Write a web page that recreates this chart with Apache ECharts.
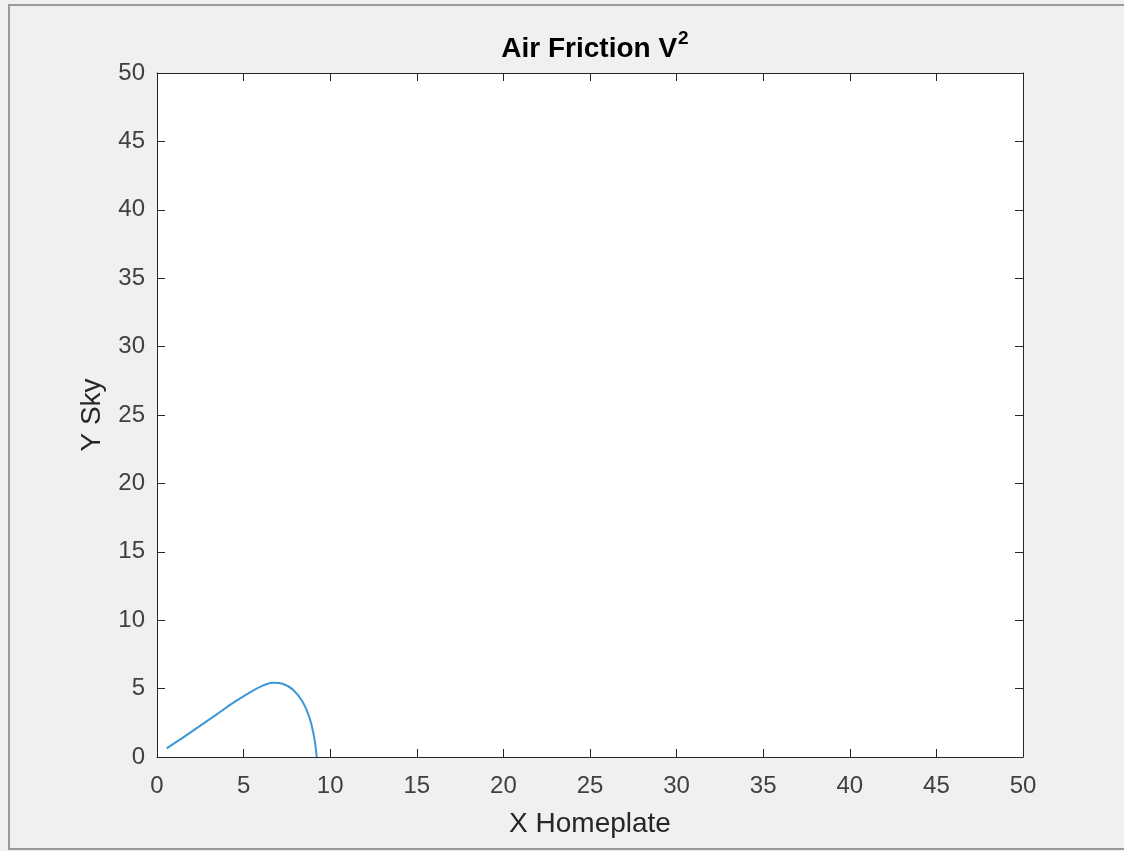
<!DOCTYPE html>
<html>
<head>
<meta charset="utf-8">
<title>Air Friction V^2</title>
<script src="https://cdn.jsdelivr.net/npm/echarts@6/dist/echarts.min.js"></script>
<style>
    html, body { margin: 0; padding: 0; background: #f0f0f0; }
    #chart { width: 1124px; height: 851px; }
</style>
</head>
<body>
<div id="chart"></div>
<script>
// 轨迹数据
const xHome = [0.56, 1.52, 2.48, 3.45, 4.41, 5.37, 6.14, 6.72, 7.29, 7.87, 8.40, 8.80, 9.05, 9.15, 9.22];
const ySky  = [0.63, 1.44, 2.27, 3.12, 3.97, 4.73, 5.24, 5.43, 5.34, 4.90, 4.05, 2.90, 1.60, 0.80, 0.00];
const tickStep = 5;
const axisMax = 50;

document.addEventListener('DOMContentLoaded', function() {
    const chart = echarts.init(document.getElementById('chart'));
    const font = '"Liberation Sans", Arial, Helvetica, sans-serif';
    const ink = '#262626';

    const points = xHome.map(function(x, i) { return [x, ySky[i]]; });

    // 坐标轴通用样式 (MATLAB 风格: 刻度朝内, 四周闭合)
    function baseAxis(pos, showLabel, margin) {
        return {
            type: 'value',
            position: pos,
            min: 0,
            max: axisMax,
            interval: tickStep,
            splitLine: { show: false },
            axisLine: { show: true, onZero: false, lineStyle: { color: ink, width: 1 } },
            axisTick: { show: true, inside: true, length: 8, lineStyle: { color: ink } },
            axisLabel: { show: showLabel, color: '#404040', fontSize: 24, fontFamily: font, margin: margin || 12 }
        };
    }

    const xBottom = baseAxis('bottom', true, 17);
    xBottom.name = 'X Homeplate';
    xBottom.nameLocation = 'middle';
    xBottom.nameGap = 53;
    xBottom.nameTextStyle = { color: '#262626', fontSize: 28, fontFamily: font };

    const yLeft = baseAxis('left', true, 12);
    yLeft.name = 'Y Sky';
    yLeft.nameLocation = 'middle';
    yLeft.nameGap = 51;
    yLeft.nameTextStyle = { color: '#262626', fontSize: 28, fontFamily: font };

    const option = {
        backgroundColor: '#f0f0f0',
        animation: false,
        title: {
            text: '{t|Air Friction V}{s|2}',
            left: 590,
            textAlign: 'center',
            top: 24,
            textStyle: {
                rich: {
                    t: { fontSize: 28, fontWeight: 'bold', color: '#000', fontFamily: font, verticalAlign: 'bottom', lineHeight: 34 },
                    s: { fontSize: 19, fontWeight: 'bold', color: '#000', fontFamily: font, verticalAlign: 'top', padding: [0, 0, 14, 1] }
                }
            }
        },
        grid: {
            left: 157,
            right: 101,
            top: 73,
            bottom: 94,
            show: true,
            backgroundColor: '#ffffff',
            borderWidth: 0
        },
        xAxis: [xBottom, baseAxis('top', false)],
        yAxis: [yLeft, baseAxis('right', false)],
        series: [
            {
                name: 'trajectory',
                type: 'line',
                data: points,
                smooth: 0.4,
                showSymbol: false,
                lineStyle: { color: '#3d97d9', width: 2 }
            }
        ],
        graphic: [
            // 截图窗口边框 (左, 上, 下)
            { type: 'polyline', shape: { points: [[1124, 5], [9, 5], [9, 849], [1124, 849]] }, style: { fill: 'none', stroke: '#9a9a9a', lineWidth: 2 }, silent: true }
        ]
    };
    chart.setOption(option);

    window.addEventListener('resize', function() {
        chart.resize();
    });
});
</script>
</body>
</html>
